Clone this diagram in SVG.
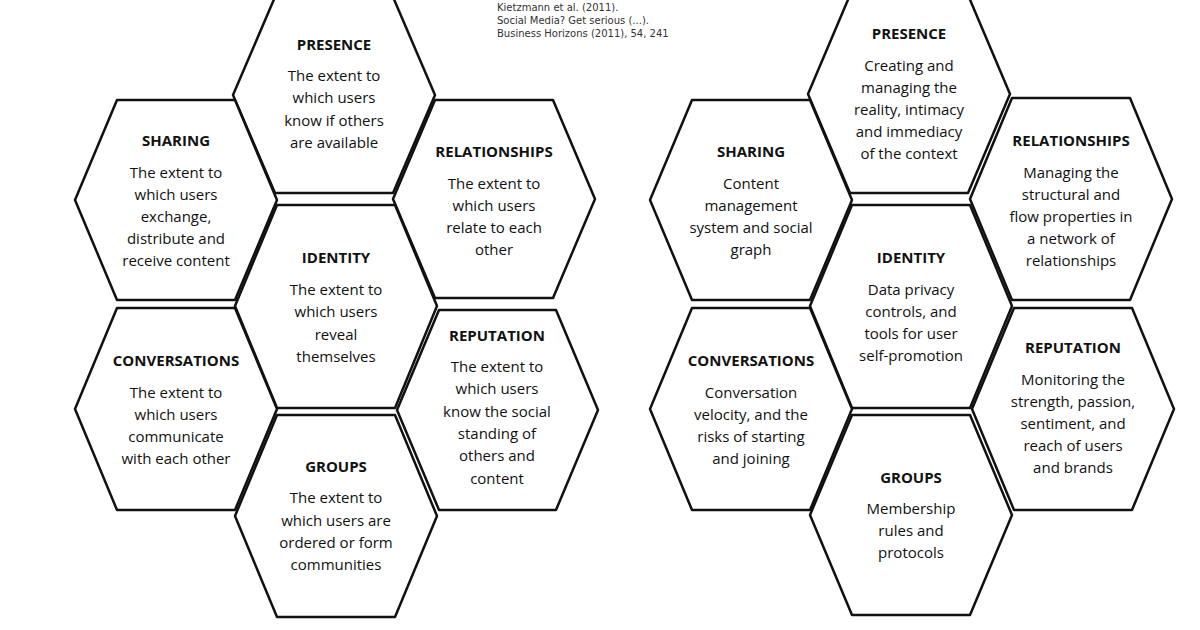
<svg xmlns="http://www.w3.org/2000/svg" width="1200" height="630" viewBox="0 0 1200 630">
<style>
.hex{fill:#fff;stroke:#111;stroke-width:2.5;stroke-linejoin:round}
.t{font-family:"Open Sans","Liberation Sans",sans-serif;font-size:15px;font-weight:bold;text-anchor:middle;fill:#111}
.b{font-family:"Open Sans","Liberation Sans",sans-serif;font-size:15px;text-anchor:middle;fill:#111}
.c{font-family:"DejaVu Sans",sans-serif;font-size:10px;fill:#333}
</style>
<rect width="1200" height="630" fill="#fff"/>
<g id="citation"><text class="c" x="497" y="11">Kietzmann et al. (2011).</text><text class="c" x="497" y="24">Social Media? Get serious (...).</text><text class="c" x="497" y="37">Business Horizons (2011), 54, 241</text></g>
<g id="l-presence"><polygon class="hex" points="233,95 275,-3 393,-3 435,95 393,193 275,193"/>
<text class="t" x="334" y="50">PRESENCE</text><text class="b" x="334" y="81">The extent to</text><text class="b" x="334" y="103">which users</text><text class="b" x="334" y="126">know if others</text><text class="b" x="334" y="148">are available</text></g>
<g id="l-sharing"><polygon class="hex" points="75,200 117,100 235,100 277,200 235,300 117,300"/>
<text class="t" x="176" y="146">SHARING</text><text class="b" x="176" y="178">The extent to</text><text class="b" x="176" y="200">which users</text><text class="b" x="176" y="222">exchange,</text><text class="b" x="176" y="244">distribute and</text><text class="b" x="176" y="266">receive content</text></g>
<g id="l-relationships"><polygon class="hex" points="393,199 435,100 553,100 595,199 553,298 435,298"/>
<text class="t" x="494" y="157">RELATIONSHIPS</text><text class="b" x="494" y="189">The extent to</text><text class="b" x="494" y="211">which users</text><text class="b" x="494" y="233">relate to each</text><text class="b" x="494" y="255">other</text></g>
<g id="l-identity"><polygon class="hex" points="235,306 277,205 395,205 437,306 395,408 277,408"/>
<text class="t" x="336" y="263">IDENTITY</text><text class="b" x="336" y="295">The extent to</text><text class="b" x="336" y="317">which users</text><text class="b" x="336" y="340">reveal</text><text class="b" x="336" y="362">themselves</text></g>
<g id="l-conversations"><polygon class="hex" points="75,409 117,308 235,308 277,409 235,510 117,510"/>
<text class="t" x="176" y="366">CONVERSATIONS</text><text class="b" x="176" y="398">The extent to</text><text class="b" x="176" y="420">which users</text><text class="b" x="176" y="442">communicate</text><text class="b" x="176" y="464">with each other</text></g>
<g id="l-reputation"><polygon class="hex" points="397,410 439,310 556,310 598,410 556,510 439,510"/>
<text class="t" x="497" y="341">REPUTATION</text><text class="b" x="497" y="372">The extent to</text><text class="b" x="497" y="394">which users</text><text class="b" x="497" y="417">know the social</text><text class="b" x="497" y="439">standing of</text><text class="b" x="497" y="461">others and</text><text class="b" x="497" y="484">content</text></g>
<g id="l-groups"><polygon class="hex" points="235,516 277,415 395,415 437,516 395,617 277,617"/>
<text class="t" x="336" y="472">GROUPS</text><text class="b" x="336" y="503">The extent to</text><text class="b" x="336" y="526">which users are</text><text class="b" x="336" y="548">ordered or form</text><text class="b" x="336" y="570">communities</text></g>
<g id="r-presence"><polygon class="hex" points="808,94 850,-5 968,-5 1010,94 968,193 850,193"/>
<text class="t" x="909" y="39">PRESENCE</text><text class="b" x="909" y="71">Creating and</text><text class="b" x="909" y="93">managing the</text><text class="b" x="909" y="115">reality, intimacy</text><text class="b" x="909" y="137">and immediacy</text><text class="b" x="909" y="159">of the context</text></g>
<g id="r-sharing"><polygon class="hex" points="650,200 692,100 810,100 852,200 810,300 692,300"/>
<text class="t" x="751" y="157">SHARING</text><text class="b" x="751" y="189">Content</text><text class="b" x="751" y="211">management</text><text class="b" x="751" y="233">system and social</text><text class="b" x="751" y="255">graph</text></g>
<g id="r-relationships"><polygon class="hex" points="970,199 1012,98 1130,98 1172,199 1130,300 1012,300"/>
<text class="t" x="1071" y="146">RELATIONSHIPS</text><text class="b" x="1071" y="178">Managing the</text><text class="b" x="1071" y="200">structural and</text><text class="b" x="1071" y="222">flow properties in</text><text class="b" x="1071" y="244">a network of</text><text class="b" x="1071" y="266">relationships</text></g>
<g id="r-identity"><polygon class="hex" points="810,306 852,205 970,205 1012,306 970,408 852,408"/>
<text class="t" x="911" y="263">IDENTITY</text><text class="b" x="911" y="295">Data privacy</text><text class="b" x="911" y="317">controls, and</text><text class="b" x="911" y="339">tools for user</text><text class="b" x="911" y="361">self-promotion</text></g>
<g id="r-conversations"><polygon class="hex" points="650,409 692,308 810,308 852,409 810,510 692,510"/>
<text class="t" x="751" y="366">CONVERSATIONS</text><text class="b" x="751" y="398">Conversation</text><text class="b" x="751" y="420">velocity, and the</text><text class="b" x="751" y="442">risks of starting</text><text class="b" x="751" y="464">and joining</text></g>
<g id="r-reputation"><polygon class="hex" points="972,409 1014,308 1132,308 1174,409 1132,510 1014,510"/>
<text class="t" x="1073" y="353">REPUTATION</text><text class="b" x="1073" y="385">Monitoring the</text><text class="b" x="1073" y="407">strength, passion,</text><text class="b" x="1073" y="429">sentiment, and</text><text class="b" x="1073" y="451">reach of users</text><text class="b" x="1073" y="473">and brands</text></g>
<g id="r-groups"><polygon class="hex" points="810,515 852,415 970,415 1012,515 970,615 852,615"/>
<text class="t" x="911" y="483">GROUPS</text><text class="b" x="911" y="514">Membership</text><text class="b" x="911" y="536">rules and</text><text class="b" x="911" y="558">protocols</text></g>
<g id="connectors"></g>
</svg>
